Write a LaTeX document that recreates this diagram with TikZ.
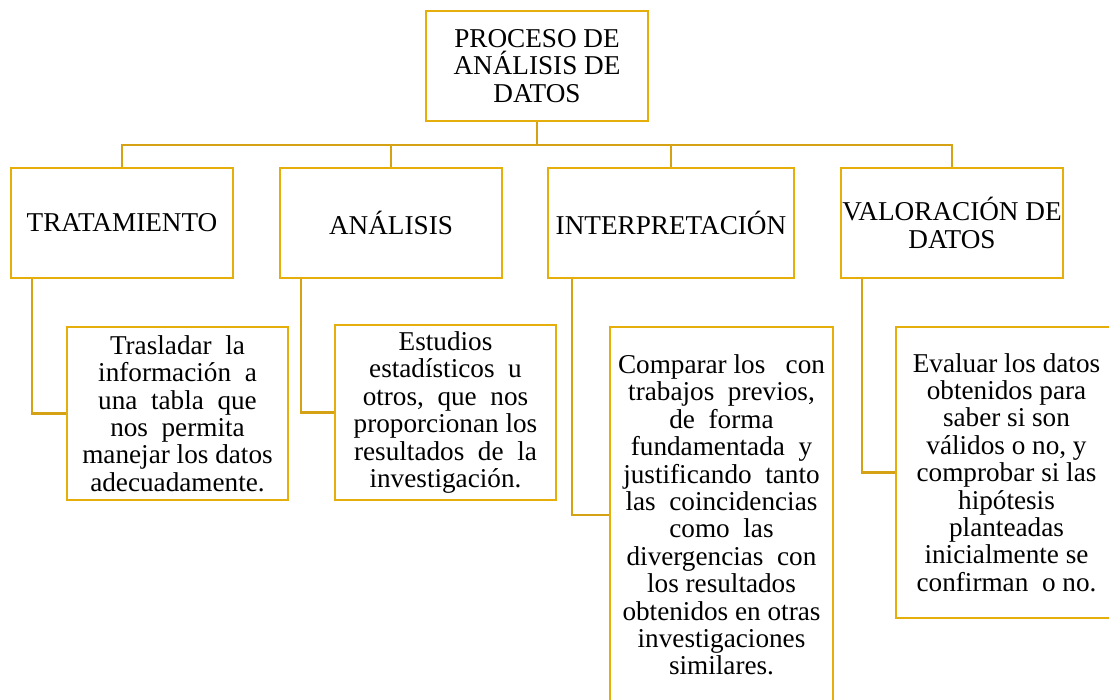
\documentclass[tikz,border=0pt]{standalone}
\usepackage{fontspec}
\setmainfont{Liberation Serif}
\usepackage{tikz}
\usetikzlibrary{positioning}
\definecolor{oro}{RGB}{229,174,10}
\definecolor{orolinea}{RGB}{212,162,20}

\begin{document}
\begin{tikzpicture}
      [x=0.5pt,y=-0.5pt,
      every node/.style={shape=rectangle,draw=oro,line width=1.4pt,align=center,inner sep=0pt,
        font=\fontsize{13.6}{13.7}\selectfont},
      nivel/.style={minimum width=111pt,minimum height=55pt},
      detalle/.style={minimum width=110.5pt},
      linea/.style={draw=orolinea,line width=1.1pt}]
\useasboundingbox (0,0) rectangle (1109,700);

\node[nivel] (proceso) at (537,66) {PROCESO DE\\ANÁLISIS DE\\DATOS};

\node[nivel] (trat) at (122,223) {TRATAMIENTO};
\node[nivel] (anal) at (391,223) {ANÁLISIS};
\node[nivel,minimum width=123pt] (interp) at (671,223) {INTERPRETACIÓN};
\node[nivel] (valor) at (952,223) {VALORACIÓN DE\\DATOS};

\node[detalle,minimum height=86.5pt] (d1) at (177.5,413.5)
   {Trasladar\enspace la\\información\enspace a\\una\enspace tabla\enspace que\\nos\enspace permita\\manejar los datos\\adecuadamente.};
\node[detalle,minimum height=87.5pt] (d2) at (445.5,412.5)
   {Estudios\\estadísticos\enspace u\\otros,\enspace que\enspace nos\\proporcionan los\\resultados\enspace de\enspace la\\investigación.};
\node[detalle,minimum width=111.5pt,minimum height=188pt] (d3) at (721.5,515)
   {Comparar los\enspace\ con\\trabajos\enspace previos,\\de\enspace forma\\fundamentada\enspace y\\justificando\enspace tanto\\las\enspace coincidencias\\como\enspace las\\divergencias\enspace con\\los\ resultados\\obtenidos\ en\ otras\\investigaciones\\similares.};
\node[detalle,minimum height=145.5pt] (d4) at (1006.5,472.5)
   {Evaluar\ los\ datos\\obtenidos\ para\\saber\ si\ son\\válidos\ o\ no,\ y\\comprobar\ si\ las\\hipótesis\\planteadas\\inicialmente\ se\\confirman\enspace o no.};

% conectores
\draw[linea] (proceso.south) -- ++(0,23) coordinate (bus);
\draw[linea] (trat.north) |- (bus) -| (valor.north);
\draw[linea] (anal.north) |- (bus);
\draw[linea] (interp.north) |- (bus);

\foreach \a/\b/\s in {trat/d1/11pt,anal/d2/11pt,interp/d3/12.5pt,valor/d4/11pt}
   \draw[linea] ([xshift=\s]\a.south west) |- (\b.west);

   \end{tikzpicture}
\end{document}
